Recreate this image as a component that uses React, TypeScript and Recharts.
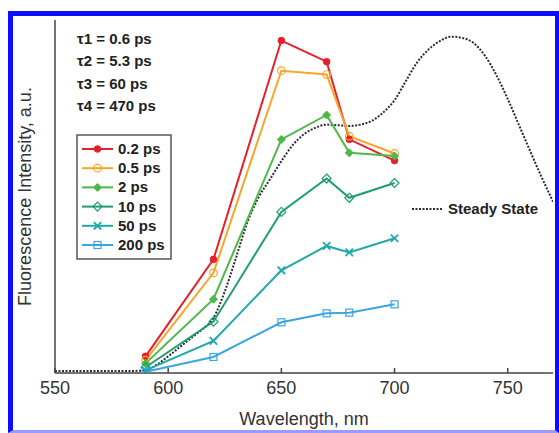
import React from 'react';
import { LineChart, Line, XAxis, YAxis, Legend } from 'recharts';

const FONT = '"Liberation Sans", Arial, Helvetica, sans-serif';

// Wavelengths of the time-resolved measurements (nm)
const wavelengths = [590, 620, 650, 670, 680, 700];

// Time-resolved fluorescence intensities (a.u.)
const series02ps = [0.26, 1.77, 5.18, 4.85, 3.64, 3.31];
const series05ps = [0.2, 1.56, 4.71, 4.65, 3.69, 3.42];
const series2ps = [0.15, 1.15, 3.64, 4.02, 3.43, 3.38];
const series10ps = [0.09, 0.8, 2.51, 3.03, 2.73, 2.96];
const series50ps = [0.04, 0.5, 1.6, 1.98, 1.88, 2.1];
const series200ps = [0.02, 0.25, 0.79, 0.93, 0.94, 1.07];

const seriesNames = ['0.2 ps', '0.5 ps', '2 ps', '10 ps', '50 ps', '200 ps'];
const seriesColors = ['#e4202c', '#f6a62a', '#4db848', '#1f9f6c', '#22a8a8', '#3aa6dd'];
const seriesMarkers = ['circleFilled', 'circleOpen', 'diamondFilled', 'diamondOpen', 'cross', 'squareOpen'];

// Steady-state emission spectrum
const ssWavelengths = [550, 560, 570, 580, 590, 595, 600, 605, 610, 615, 620, 625, 630, 635, 640, 645, 650, 655, 660, 665, 670, 675, 680, 685, 690, 695, 700, 705, 710, 715, 720, 725, 730, 735, 740, 745, 750, 755, 760, 765, 770];
const ssIntensity = [0.03, 0.03, 0.03, 0.03, 0.04, 0.13, 0.26, 0.4, 0.54, 0.68, 0.86, 1.27, 1.8, 2.35, 2.74, 3.02, 3.3, 3.55, 3.72, 3.82, 3.87, 3.86, 3.85, 3.87, 3.93, 4.06, 4.25, 4.55, 4.84, 5.04, 5.17, 5.24, 5.22, 5.14, 4.94, 4.64, 4.27, 3.86, 3.45, 3.05, 2.67];

const xTicks = [550, 600, 650, 700, 750];
const yTicks = [0, 1, 2, 3, 4, 5];
const lifetimeLabels = ['τ1 = 0.6 ps', 'τ2 = 5.3 ps', 'τ3 = 60 ps', 'τ4 = 470 ps'];

const allSeries = [series02ps, series05ps, series2ps, series10ps, series50ps, series200ps];
const seriesData = allSeries.map((vals) => wavelengths.map((x, i) => ({ x, y: vals[i] })));
const ssData = ssWavelengths.map((x, i) => ({ x, y: ssIntensity[i] }));

function Marker({ kind, cx, cy, color }: { kind: string; cx: number; cy: number; color: string }) {
  switch (kind) {
    case 'circleFilled':
      return <circle cx={cx} cy={cy} r={3.3} fill={color} stroke={color} strokeWidth={1} />;
    case 'circleOpen':
      return <circle cx={cx} cy={cy} r={3.8} fill="none" stroke={color} strokeWidth={1.2} />;
    case 'diamondFilled':
      return <path d={`M${cx},${cy - 4}L${cx + 4},${cy}L${cx},${cy + 4}L${cx - 4},${cy}Z`} fill={color} stroke={color} strokeWidth={1} />;
    case 'diamondOpen':
      return <path d={`M${cx},${cy - 4.5}L${cx + 4.5},${cy}L${cx},${cy + 4.5}L${cx - 4.5},${cy}Z`} fill="none" stroke={color} strokeWidth={1.2} />;
    case 'cross':
      return <path d={`M${cx - 3.7},${cy - 3.7}L${cx + 3.7},${cy + 3.7}M${cx - 3.7},${cy + 3.7}L${cx + 3.7},${cy - 3.7}`} fill="none" stroke={color} strokeWidth={1.8} />;
    case 'squareOpen':
      return <rect x={cx - 3.5} y={cy - 3.5} width={7} height={7} fill="none" stroke={color} strokeWidth={1.2} />;
    default:
      return null;
  }
}

function Annotations() {
  return (
    <svg width={559} height={433} style={{ position: 'absolute', left: 0, top: 0, pointerEvents: 'none' }}>
      {lifetimeLabels.map((t, i) => (
        <text key={t} x={77} y={44 + 22.4 * i} fontFamily={FONT} fontSize={15} fontWeight="bold" fill="#222">
          {t}
        </text>
      ))}
      <rect x={77} y={135} width={94} height={124} fill="#fff" stroke="#555" strokeWidth={1.5} />
      {seriesNames.map((name, i) => {
        const base = 154 + 19.2 * i;
        const cy = base - 5;
        return (
          <g key={name}>
            <line x1={82} x2={113} y1={cy} y2={cy} stroke={seriesColors[i]} strokeWidth={2} />
            <Marker kind={seriesMarkers[i]} cx={97.5} cy={cy} color={seriesColors[i]} />
            <text x={118} y={base} fontFamily={FONT} fontSize={15} fontWeight="bold" fill="#222">
              {name}
            </text>
          </g>
        );
      })}
      <line x1={412} x2={443} y1={209} y2={209} stroke="#2b2b3b" strokeWidth={2} strokeDasharray="2 1.5" />
      <text x={448} y={213.5} fontFamily={FONT} fontSize={15} fontWeight="bold" fill="#222">
        Steady State
      </text>
    </svg>
  );
}

export default function App() {
  return (
    <div style={{ position: 'absolute', left: 0, top: 0, width: 559, height: 433, background: '#fff', overflow: 'hidden' }}>
      <div style={{ position: 'absolute', left: 0, top: 0 }}>
        <LineChart width={559} height={433} margin={{ top: 20, right: 6, bottom: 0, left: 0 }}>
          <XAxis
            xAxisId="b"
            type="number"
            dataKey="x"
            orientation="bottom"
            domain={[550, 770]}
            ticks={xTicks}
            allowDataOverflow
            height={60}
            tickSize={-5}
            tickMargin={13}
            stroke="#444"
            strokeWidth={1.5}
            tickLine={{ stroke: '#444', strokeWidth: 1.5 }}
            tick={{ fontSize: 18, fill: '#333', fontFamily: FONT }}
            label={{ value: 'Wavelength, nm', position: 'insideBottom', offset: 8, fontSize: 18, fill: '#333', fontFamily: FONT }}
          />
          <XAxis
            xAxisId="t"
            type="number"
            dataKey="x"
            orientation="top"
            domain={[550, 770]}
            ticks={xTicks}
            allowDataOverflow
            height={0}
            tickSize={-5}
            tick={false}
            stroke="#444"
            strokeWidth={1.5}
            tickLine={{ stroke: '#444', strokeWidth: 1.5 }}
          />
          <YAxis
            yAxisId="l"
            type="number"
            domain={[0, 5.5]}
            ticks={yTicks}
            allowDataOverflow
            width={55}
            tickSize={-5}
            tick={false}
            stroke="#444"
            strokeWidth={1.5}
            tickLine={{ stroke: '#444', strokeWidth: 1.5 }}
            label={{ value: 'Fluorescence Intensity, a.u.', angle: -90, position: 'center', dx: -3, fontSize: 18, fill: '#333', fontFamily: FONT }}
          />
          <YAxis
            yAxisId="r"
            type="number"
            orientation="right"
            domain={[0, 5.5]}
            ticks={yTicks}
            allowDataOverflow
            width={0}
            tickSize={-5}
            tick={false}
            stroke="#444"
            strokeWidth={1.5}
            tickLine={{ stroke: '#444', strokeWidth: 1.5 }}
          />
          <Legend
            layout="vertical"
            align="center"
            verticalAlign="middle"
            wrapperStyle={{ left: 0, top: 0, width: 559, height: 433, pointerEvents: 'none' }}
            content={() => <Annotations />}
          />
          <Line
            xAxisId="b"
            yAxisId="l"
            data={ssData}
            dataKey="y"
            name="Steady State"
            type="monotone"
            stroke="#2b2b3b"
            strokeWidth={2}
            strokeDasharray="2 1.5"
            dot={false}
            activeDot={false}
            legendType="none"
            isAnimationActive={false}
          />
          {seriesData.map((d, si) => (
            <Line
              key={seriesNames[si]}
              xAxisId="b"
              yAxisId="l"
              data={d}
              dataKey="y"
              name={seriesNames[si]}
              type="linear"
              stroke={seriesColors[si]}
              strokeWidth={2}
              activeDot={false}
              isAnimationActive={false}
              dot={(p: any) => (
                <g key={`${seriesNames[si]}-${p.index}`}>
                  <Marker kind={seriesMarkers[si]} cx={p.cx} cy={p.cy} color={seriesColors[si]} />
                </g>
              )}
            />
          ))}
        </LineChart>
      </div>
      <div
        style={{
          position: 'absolute',
          left: 8,
          top: 11,
          width: 551,
          height: 422,
          boxSizing: 'border-box',
          borderStyle: 'solid',
          borderColor: '#0d0dff',
          borderBottomColor: '#9a9aff',
          borderWidth: '5px 4px 3px 5px',
          pointerEvents: 'none',
        }}
      />
    </div>
  );
}
